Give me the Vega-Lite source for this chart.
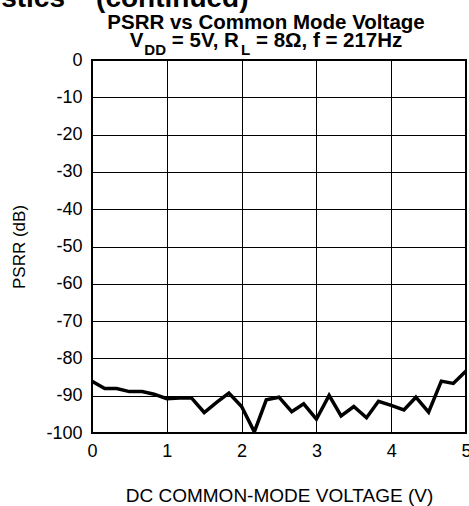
{
  "$schema": "https://vega.github.io/schema/vega-lite/v6.json",
  "autosize": {"type": "none"},
  "width": 374,
  "height": 373,
  "padding": {"left": 92, "top": 60, "right": 3, "bottom": 73},
  "background": "white",
  "title": {
    "text": ["PSRR vs Common Mode Voltage", "V\u00a0\u00a0\u00a0\u00a0 = 5V, R\u00a0\u00a0 = 8Ω, f = 217Hz"],
    "subtitle": "DD\u00a0\u00a0\u00a0\u00a0\u00a0\u00a0\u00a0\u00a0\u00a0\u00a0\u00a0\u00a0\u00a0\u00a0\u00a0\u00a0\u00a0\u00a0L\u00a0\u00a0\u00a0\u00a0\u00a0\u00a0\u00a0\u00a0\u00a0\u00a0\u00a0\u00a0\u00a0\u00a0\u00a0\u00a0\u00a0\u00a0\u00a0\u00a0\u00a0\u00a0\u00a0\u00a0\u00a0\u00a0\u00a0\u00a0\u00a0\u00a0\u00a0\u00a0\u00a0\u200b",
    "font": "Liberation Sans",
    "fontSize": 20.5,
    "fontWeight": "bold",
    "color": "black",
    "lineHeight": 18,
    "subtitleFont": "Liberation Sans",
    "subtitleFontSize": 15,
    "subtitleFontWeight": "bold",
    "subtitleColor": "black",
    "subtitlePadding": -8,
    "anchor": "middle",
    "dx": -13,
    "dy": 83.5,
    "offset": 10
  },
  "data": {
    "values": [
      {"v": 0.0, "psrr": -86.1},
      {"v": 0.17, "psrr": -88.1},
      {"v": 0.33, "psrr": -88.1},
      {"v": 0.5, "psrr": -88.9},
      {"v": 0.67, "psrr": -88.9},
      {"v": 0.83, "psrr": -89.6},
      {"v": 1.0, "psrr": -90.8},
      {"v": 1.17, "psrr": -90.6},
      {"v": 1.33, "psrr": -90.6},
      {"v": 1.5, "psrr": -94.5},
      {"v": 1.67, "psrr": -91.7},
      {"v": 1.83, "psrr": -89.3},
      {"v": 2.0, "psrr": -92.9},
      {"v": 2.17, "psrr": -99.7},
      {"v": 2.33, "psrr": -91.1},
      {"v": 2.5, "psrr": -90.4},
      {"v": 2.67, "psrr": -94.3},
      {"v": 2.83, "psrr": -92.2},
      {"v": 3.0, "psrr": -96.3},
      {"v": 3.17, "psrr": -89.9},
      {"v": 3.33, "psrr": -95.4},
      {"v": 3.5, "psrr": -92.9},
      {"v": 3.67, "psrr": -95.9},
      {"v": 3.83, "psrr": -91.5},
      {"v": 4.0, "psrr": -92.6},
      {"v": 4.17, "psrr": -93.8},
      {"v": 4.33, "psrr": -90.4},
      {"v": 4.5, "psrr": -94.4},
      {"v": 4.67, "psrr": -86.1},
      {"v": 4.83, "psrr": -86.7},
      {"v": 5.0, "psrr": -83.4}
    ]
  },
  "layer": [
    {
      "mark": {"type": "line", "color": "black", "strokeWidth": 3.5, "strokeJoin": "miter", "clip": true},
      "encoding": {
        "x": {
          "field": "v", "type": "quantitative",
          "scale": {"domain": [0, 5], "nice": false, "zero": false},
          "axis": {
            "values": [0, 1, 2, 3, 4, 5],
            "title": "DC COMMON-MODE VOLTAGE (V)",
            "titleFont": "Liberation Sans", "titleFontSize": 19, "titleFontWeight": "normal", "titleColor": "black",
            "titlePadding": 26,
            "labelFont": "Liberation Sans", "labelFontSize": 18, "labelColor": "black", "labelPadding": 9,
            "labelFlush": false, "labelOverlap": false,
            "grid": true, "gridColor": "black", "gridWidth": 1, "gridOpacity": 1,
            "ticks": false, "domain": false
          }
        },
        "y": {
          "field": "psrr", "type": "quantitative",
          "scale": {"domain": [-100, 0], "nice": false, "zero": false},
          "axis": {
            "values": [0, -10, -20, -30, -40, -50, -60, -70, -80, -90, -100],
            "labelExpr": "'' + datum.value",
            "title": "PSRR (dB)",
            "titleFont": "Liberation Sans", "titleFontSize": 17, "titleFontWeight": "normal", "titleColor": "black",
            "titlePadding": 17,
            "labelFont": "Liberation Sans", "labelFontSize": 18, "labelColor": "black", "labelPadding": 10,
            "labelFlush": false, "labelOverlap": false,
            "grid": true, "gridColor": "black", "gridWidth": 1, "gridOpacity": 1,
            "ticks": false, "domain": false
          }
        }
      }
    },
    {
      "mark": {"type": "rule", "opacity": 0},
      "encoding": {
        "x": {
          "field": "v", "type": "quantitative",
          "axis": {
            "orient": "top",
            "title": "Typical Performance Characteristics\u00a0\u00a0\u00a0\u00a0(continued)",
            "titleFont": "Liberation Sans", "titleFontSize": 28, "titleFontWeight": "bold", "titleColor": "black",
            "titleX": 156, "titleY": -53.5, "titleAlign": "right", "titleBaseline": "alphabetic", "titleAngle": 0,
            "titleLimit": 1000,
            "labels": false, "ticks": false, "domain": false, "grid": false
          }
        }
      }
    }
  ],
  "resolve": {"axis": {"x": "independent"}},
  "config": {
    "view": {"stroke": "black", "strokeWidth": 2},
    "font": "Liberation Sans"
  }
}
